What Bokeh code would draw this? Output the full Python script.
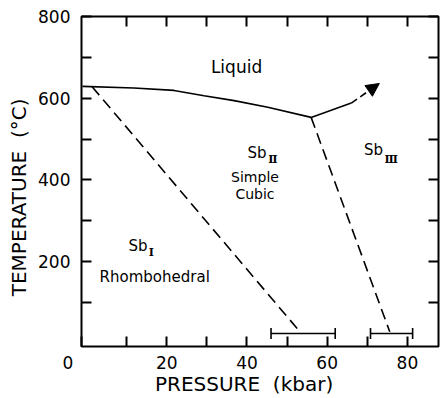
from bokeh.plotting import figure
from bokeh.models import (Range1d, LinearAxis, FixedTicker, Arrow, NormalHead,
                          Whisker, TeeHead, ColumnDataSource)
from bokeh.core.properties import value
from bokeh.embed import file_html
from bokeh.resources import INLINE

# ---- data ----
liquidus_p = [-1, 11.8, 21.8, 29.3, 36.8, 45.2, 56]
liquidus_t = [629, 625, 619, 606, 594, 578, 553]

boundary_I_II_p = [1.4, 53.3]
boundary_I_II_t = [628, 27]

boundary_II_III_p = [56, 75.6]
boundary_II_III_t = [553, 28]

arrow_p = [56, 66, 73]
arrow_t = [553, 588, 636]

err_t = [24, 24]
err_lo_p = [46, 70.8]
err_hi_p = [62, 81.3]

P_MIN, P_MAX = -1.25, 87.75
T_MIN, T_MAX = -8, 800

NB = "\u00a0"
x_ticks = [P_MIN, 10, 20, 30, 40, 50, 60, 70, 80]
x_tick_labels = {P_MIN: "0" + NB * 5, 10: "", 20: "20", 30: "", 40: "40", 50: "",
                 60: "60", 70: "", 80: "80"}
y_ticks = [100, 200, 300, 400, 500, 600, 700, 800]
y_tick_labels = {100: "", 200: "200", 300: "", 400: "400", 500: "", 600: "600",
                 700: "", 800: "800"}

x_title = "PRESSURE " + NB + "(kbar)" + NB * 5
y_title = "TEMPERATURE " + NB + "(\u00b0C)" + NB * 5

phase_words = ["Liquid", "Simple", "Cubic", "Rhombohedral"]
phase_words_p = [37.4, 42.0, 42.0, 17.0]
phase_words_t = [676, 406, 366, 162]
phase_words_size = ["17px", "14px", "14px", "15px"]

sb_p = [44.9, 73.9, 15.2]
sb_t = [467, 472, 239]
sub_text = ["\u2161", "\u2162", "I"]
sub_p = [45.3, 74.3, 15.5]
sub_t = [451, 450, 222]

FONT = "DejaVu Sans"

p = figure(width=441, height=398, output_backend="svg", toolbar_location=None,
           x_range=Range1d(P_MIN, P_MAX), y_range=Range1d(T_MIN, T_MAX),
           min_border_left=81, min_border_right=3, min_border_top=16, min_border_bottom=52)
p.grid.visible = False
p.outline_line_color = "black"
p.outline_line_width = 2
p.background_fill_color = "white"
p.border_fill_color = "white"

def style_axis(ax, ticks, overrides, show):
    ax.ticker = FixedTicker(ticks=ticks)
    ax.major_label_overrides = overrides
    ax.axis_line_color = None
    ax.major_tick_in = 10
    ax.major_tick_out = 0
    ax.major_tick_line_width = 2
    ax.major_tick_line_color = "black"
    ax.minor_tick_line_color = None
    if show:
        ax.major_label_text_font = FONT
        ax.major_label_text_font_size = "17px"
        ax.major_label_text_color = "black"
        ax.axis_label_text_font = FONT
        ax.axis_label_text_font_size = "20px"
        ax.axis_label_text_font_style = "normal"
        ax.axis_label_text_color = "black"
    else:
        ax.major_label_text_font_size = "0px"
        ax.major_label_standoff = 0

xa = p.xaxis[0]
ya = p.yaxis[0]
style_axis(xa, x_ticks, x_tick_labels, True)
style_axis(ya, y_ticks, y_tick_labels, True)
xa.axis_label = x_title
ya.axis_label = y_title
xa.major_label_standoff = 6
xa.axis_label_standoff = -4
ya.major_label_standoff = 11
ya.axis_label_standoff = 4

top = LinearAxis()
style_axis(top, [t for t in x_ticks if t > P_MIN], {}, False)
p.add_layout(top, "above")
right = LinearAxis()
style_axis(right, y_ticks, {}, False)
p.add_layout(right, "right")

# curves
p.line(liquidus_p, liquidus_t, line_color="black", line_width=1.6)
p.line(boundary_I_II_p, boundary_I_II_t, line_color="black", line_width=1.6, line_dash="11 6")
p.line(boundary_II_III_p, boundary_II_III_t, line_color="black", line_width=1.6, line_dash="11 6")
p.line(arrow_p[:2], arrow_t[:2], line_color="black", line_width=1.6)
p.add_layout(Arrow(x_start=arrow_p[1], y_start=arrow_t[1], x_end=arrow_p[2], y_end=arrow_t[2],
                   line_color="black", line_width=1.6, line_dash="7 4",
                   end=NormalHead(size=13, fill_color="black", line_color="black", line_width=1)))

src = ColumnDataSource(dict(t=err_t, lo=err_lo_p, hi=err_hi_p))
p.add_layout(Whisker(source=src, base="t", lower="lo", upper="hi", dimension="width",
                     line_color="black", line_width=1.4,
                     lower_head=TeeHead(size=11, line_width=1.6, line_color="black"),
                     upper_head=TeeHead(size=11, line_width=1.6, line_color="black")))

# labels
for w, x, y, s in zip(phase_words, phase_words_p, phase_words_t, phase_words_size):
    p.text([x], [y], text=[w], text_font=value(FONT), text_font_size=s,
           text_align="center", text_baseline="middle", text_color="black")
p.text(sb_p, sb_t, text=["Sb"] * 3, text_font=value(FONT), text_font_size="15px",
       text_align="right", text_baseline="middle", text_color="black")
p.text(sub_p, sub_t, text=sub_text, text_font=value("DejaVu Serif"), text_font_size="11px",
       text_font_style="bold", text_align="left", text_baseline="middle", text_color="black")

open("out.html", "w").write(file_html(p, INLINE))
